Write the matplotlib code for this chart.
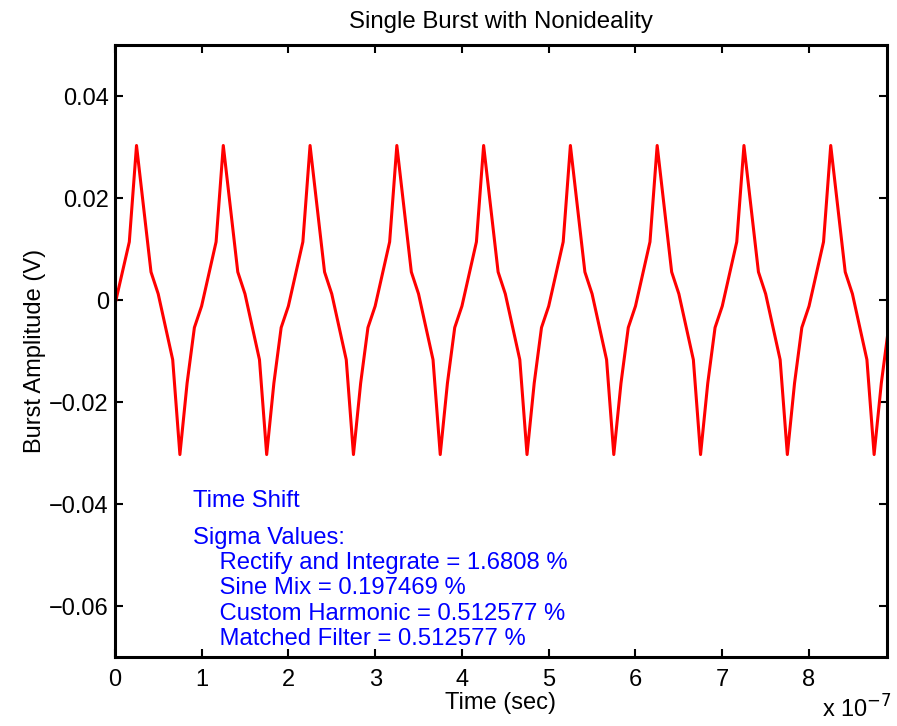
import numpy as np
import matplotlib.pyplot as plt

plt.rcParams['font.family'] = ['Liberation Sans', 'DejaVu Sans']

# burst samples, time in units of 1e-7 s
time_e7 = [0.000, 0.167, 0.250, 0.417, 0.500, 0.667, 0.750, 0.833, 0.917,
           1.000, 1.167, 1.250, 1.417, 1.500, 1.667, 1.750, 1.833, 1.917,
           2.000, 2.167, 2.250, 2.417, 2.500, 2.667, 2.750, 2.833, 2.917,
           3.000, 3.167, 3.250, 3.417, 3.500, 3.667, 3.750, 3.833, 3.917,
           4.000, 4.167, 4.250, 4.417, 4.500, 4.667, 4.750, 4.833, 4.917,
           5.000, 5.167, 5.250, 5.417, 5.500, 5.667, 5.750, 5.833, 5.917,
           6.000, 6.167, 6.250, 6.417, 6.500, 6.667, 6.750, 6.833, 6.917,
           7.000, 7.167, 7.250, 7.417, 7.500, 7.667, 7.750, 7.833, 7.917,
           8.000, 8.167, 8.250, 8.417, 8.500, 8.667, 8.750, 8.833, 8.917]
amplitude = [-0.0010, 0.0114, 0.0303, 0.0055, 0.0012, -0.0117, -0.0303, -0.0163, -0.0054,
             -0.0012, 0.0114, 0.0303, 0.0055, 0.0012, -0.0117, -0.0303, -0.0163, -0.0054,
             -0.0012, 0.0114, 0.0303, 0.0055, 0.0012, -0.0117, -0.0303, -0.0163, -0.0054,
             -0.0012, 0.0114, 0.0303, 0.0055, 0.0012, -0.0117, -0.0303, -0.0163, -0.0054,
             -0.0012, 0.0114, 0.0303, 0.0055, 0.0012, -0.0117, -0.0303, -0.0163, -0.0054,
             -0.0012, 0.0114, 0.0303, 0.0055, 0.0012, -0.0117, -0.0303, -0.0163, -0.0054,
             -0.0012, 0.0114, 0.0303, 0.0055, 0.0012, -0.0117, -0.0303, -0.0163, -0.0054,
             -0.0012, 0.0114, 0.0303, 0.0055, 0.0012, -0.0117, -0.0303, -0.0163, -0.0054,
             -0.0012, 0.0114, 0.0303, 0.0055, 0.0012, -0.0117, -0.0303, -0.0163, -0.0054]

x_ticks = [0, 1, 2, 3, 4, 5, 6, 7, 8]
y_ticks = [-0.06, -0.04, -0.02, 0, 0.02, 0.04]
y_labels = ['\u22120.06', '\u22120.04', '\u22120.02', '0', '0.02', '0.04']

sigma_lines = ['Sigma Values:',
               '    Rectify and Integrate = 1.6808 %',
               '    Sine Mix = 0.197469 %',
               '    Custom Harmonic = 0.512577 %',
               '    Matched Filter = 0.512577 %']

t = np.array(time_e7) * 1e-7

fig = plt.figure(figsize=(8.97, 7.26), dpi=100)
ax = fig.add_axes([0.128, 0.095, 0.861, 0.843])

ax.plot(t, amplitude, color='red', linewidth=2.2)

ax.set_xlim(0, 8.9e-7)
ax.set_ylim(-0.07, 0.05)
ax.set_xticks(np.array(x_ticks) * 1e-7)
ax.set_xticklabels([str(v) for v in x_ticks])
ax.set_yticks(y_ticks)
ax.set_yticklabels(y_labels)
ax.tick_params(direction='in', length=6, width=1.5, top=True, right=True,
               labelsize=17)
ax.tick_params(axis='x', pad=8.5)
ax.tick_params(axis='y', pad=4.3)
for s in ax.spines.values():
    s.set_linewidth(2.2)

ax.set_title('Single Burst with Nonideality', fontsize=17.3, pad=12)
ax.set_xlabel('Time (sec)', fontsize=17, labelpad=1)
ax.set_ylabel('Burst Amplitude (V)', fontsize=17, labelpad=2)
fig.text(0.916, 0.012, 'x 10$^{-7}$', fontsize=17, va='baseline')

ax.text(0.101, 0.255, 'Time Shift', color='blue', fontsize=17.2,
        transform=ax.transAxes, va='center')
for i, line in enumerate(sigma_lines):
    ax.text(0.101, 0.195 - i * 0.0414, line, color='blue', fontsize=17.2,
            transform=ax.transAxes, va='center')

fig.savefig('out.png', dpi=100)
